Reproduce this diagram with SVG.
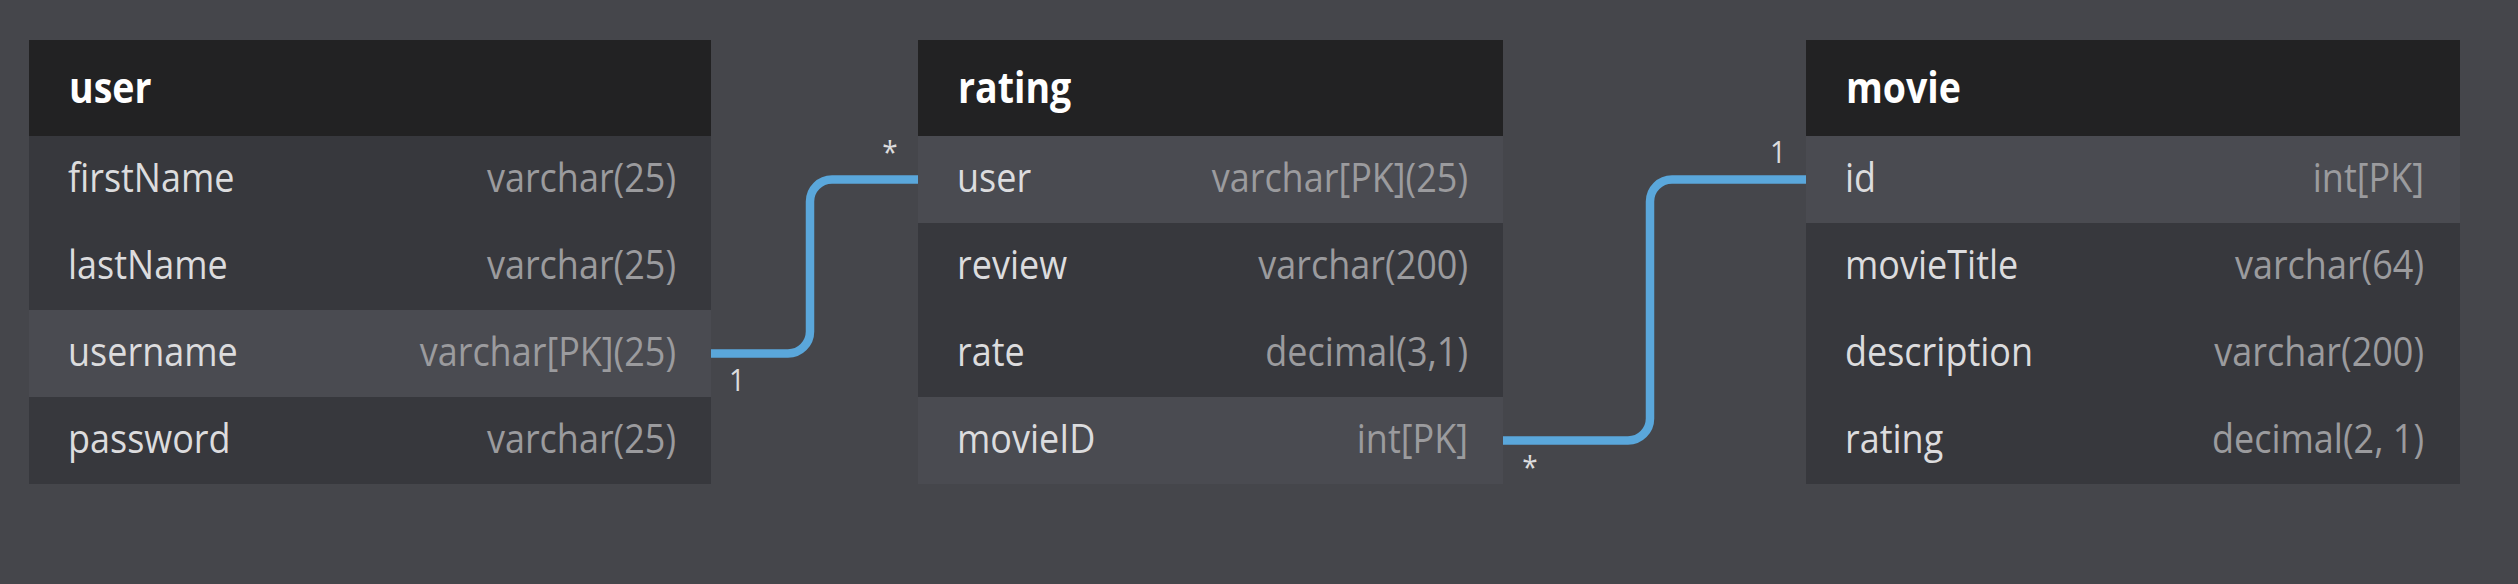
<svg xmlns="http://www.w3.org/2000/svg" width="2518" height="584" viewBox="0 0 2518 584">
<style>
.bg{fill:#45464b}
.hdr{fill:#222223}
.row{fill:#37383d}
.pk{fill:#4a4b51}
.title{font-family:"Open Sans","Noto Sans","Liberation Sans",sans-serif;font-weight:bold;font-size:37.5px;fill:#ffffff}
.name{font-family:"Open Sans","Noto Sans","Liberation Sans",sans-serif;font-size:36px;fill:#dcdcde}
.type{font-family:"Open Sans","Noto Sans","Liberation Sans",sans-serif;font-size:36px;fill:#9b9b9e;text-anchor:end}
.card{font-family:"Open Sans","Noto Sans","Liberation Sans",sans-serif;font-size:28px;fill:#dcdcde;text-anchor:middle}
.link{fill:none;stroke:#5aa7db;stroke-width:8.5}
</style>
<rect class="bg" x="0" y="0" width="2518" height="584"/>
<g id="connectors">
<path class="link" d="M711,353.5 H788 A22,22 0 0 0 810,331.5 V201.5 A22,22 0 0 1 832,179.5 H918"/>
<path class="link" d="M1503,440.5 H1628 A22,22 0 0 0 1650,418.5 V201.5 A22,22 0 0 1 1672,179.5 H1806"/>
<text class="card" transform="matrix(1 0 0 1.1 737 391)">1</text>
<text class="card" transform="matrix(1 0 0 1.1 890 163)">*</text>
<text class="card" transform="matrix(1 0 0 1.1 1778 163)">1</text>
<text class="card" transform="matrix(1 0 0 1.1 1530 478)">*</text>
</g>
<g id="user">
<rect class="hdr" x="29" y="40" width="682" height="96"/>
<rect class="row" x="29" y="136" width="682" height="87"/>
<rect class="row" x="29" y="223" width="682" height="87"/>
<rect class="pk" x="29" y="310" width="682" height="87"/>
<rect class="row" x="29" y="397" width="682" height="87"/>
<text class="title" transform="matrix(1 0 0 1.13 69 102.5)">user</text>
<text class="name" transform="matrix(1 0 0 1.1 68 192)">firstName</text><text class="type" transform="matrix(1 0 0 1.1 676 192)">varchar(25)</text>
<text class="name" transform="matrix(1 0 0 1.1 68 279)">lastName</text><text class="type" transform="matrix(1 0 0 1.1 676 279)">varchar(25)</text>
<text class="name" transform="matrix(1 0 0 1.1 68 366)">username</text><text class="type" transform="matrix(1 0 0 1.1 676 366)">varchar[PK](25)</text>
<text class="name" transform="matrix(1 0 0 1.1 68 453)">password</text><text class="type" transform="matrix(1 0 0 1.1 676 453)">varchar(25)</text>
</g>
<g id="rating">
<rect class="hdr" x="918" y="40" width="585" height="96"/>
<rect class="pk" x="918" y="136" width="585" height="87"/>
<rect class="row" x="918" y="223" width="585" height="87"/>
<rect class="row" x="918" y="310" width="585" height="87"/>
<rect class="pk" x="918" y="397" width="585" height="87"/>
<text class="title" transform="matrix(1 0 0 1.13 958 102.5)">rating</text>
<text class="name" transform="matrix(1 0 0 1.1 957 192)">user</text><text class="type" transform="matrix(1 0 0 1.1 1468 192)">varchar[PK](25)</text>
<text class="name" transform="matrix(1 0 0 1.1 957 279)">review</text><text class="type" transform="matrix(1 0 0 1.1 1468 279)">varchar(200)</text>
<text class="name" transform="matrix(1 0 0 1.1 957 366)">rate</text><text class="type" transform="matrix(1 0 0 1.1 1468 366)">decimal(3,1)</text>
<text class="name" transform="matrix(1 0 0 1.1 957 453)">movieID</text><text class="type" transform="matrix(1 0 0 1.1 1468 453)">int[PK]</text>
</g>
<g id="movie">
<rect class="hdr" x="1806" y="40" width="654" height="96"/>
<rect class="pk" x="1806" y="136" width="654" height="87"/>
<rect class="row" x="1806" y="223" width="654" height="87"/>
<rect class="row" x="1806" y="310" width="654" height="87"/>
<rect class="row" x="1806" y="397" width="654" height="87"/>
<text class="title" transform="matrix(1 0 0 1.13 1846 102.5)">movie</text>
<text class="name" transform="matrix(1 0 0 1.1 1845 192)">id</text><text class="type" transform="matrix(1 0 0 1.1 2424 192)">int[PK]</text>
<text class="name" transform="matrix(1 0 0 1.1 1845 279)">movieTitle</text><text class="type" transform="matrix(1 0 0 1.1 2424 279)">varchar(64)</text>
<text class="name" transform="matrix(1 0 0 1.1 1845 366)">description</text><text class="type" transform="matrix(1 0 0 1.1 2424 366)">varchar(200)</text>
<text class="name" transform="matrix(1 0 0 1.1 1845 453)">rating</text><text class="type" transform="matrix(1 0 0 1.1 2424 453)">decimal(2, 1)</text>
</g>
</svg>
